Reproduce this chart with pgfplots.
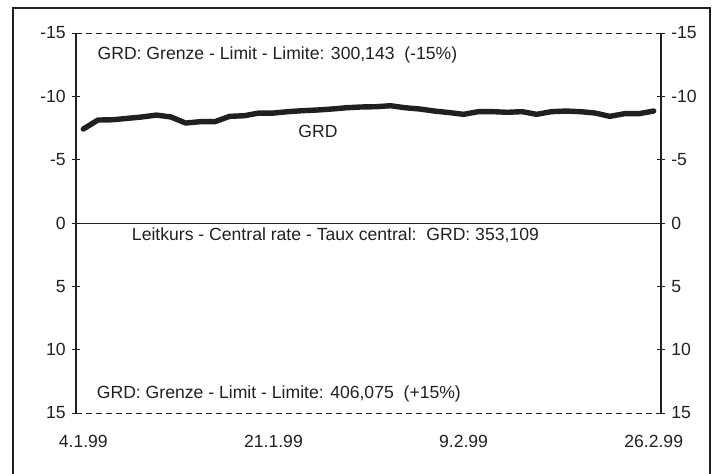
\documentclass[border=0pt]{standalone}
\usepackage{fontspec}
\setmainfont{Liberation Sans}
\usepackage{pgfplots}
\pgfplotsset{compat=1.18}
\definecolor{ink}{HTML}{202020}
\begin{document}
\fontsize{8.8bp}{10.5bp}\selectfont
\begin{tikzpicture}
\pgfplotsset{
  common/.style={
    width=292.5bp, height=190bp, scale only axis,
    xmin=-0.5, xmax=39.5, ymin=-15, ymax=15, y dir=reverse,
    axis line style={draw=none},
    ytick={-15,-10,-5,0,5,10,15},
    tick align=center,
    major tick length=4bp,
    tick style={ink, line width=0.5bp},
    /pgf/number format/assume math mode=true,
    tick label style={font=\fontsize{8.8bp}{10.5bp}\selectfont, text=ink},
    clip=false,
  }
}
\begin{axis}[common,
  ytick pos=left, yticklabel pos=left,
  xtick={0,13,26,39}, xticklabels={4.1.99,21.1.99,9.2.99,26.2.99},
  x tick style={draw=none},
  xticklabel style={yshift=-6bp},
]
\draw[ink, line width=0.6bp] (axis cs:-0.5,-15) -- (axis cs:-0.5,15);
\draw[ink, line width=0.6bp] (axis cs:39.5,-15) -- (axis cs:39.5,15);
\draw[ink, line width=0.5bp] (axis cs:-0.5,0) -- (axis cs:39.5,0);
\draw[ink, line width=0.5bp, dash pattern=on 2.8bp off 2.2bp] (axis cs:-0.5,-15) -- (axis cs:39.5,-15);
\draw[ink, line width=0.5bp, dash pattern=on 2.8bp off 2.2bp] (axis cs:-0.5,15) -- (axis cs:39.5,15);
\addplot[ink, line width=2.7bp, line cap=round, line join=round, mark=none] coordinates {
(0,-7.42) (1,-8.13) (2,-8.15) (3,-8.26) (4,-8.37) (5,-8.52) (6,-8.37) (7,-7.89)
(8,-8.0) (9,-8.0) (10,-8.42) (11,-8.47) (12,-8.68) (13,-8.68) (14,-8.79) (15,-8.87)
(16,-8.92) (17,-9.0) (18,-9.1) (19,-9.16) (20,-9.18) (21,-9.26) (22,-9.1) (23,-9.0)
(24,-8.84) (25,-8.72) (26,-8.58) (27,-8.79) (28,-8.79) (29,-8.74) (30,-8.79) (31,-8.58)
(32,-8.79) (33,-8.84) (34,-8.79) (35,-8.68) (36,-8.42) (37,-8.63) (38,-8.63) (39,-8.84)
};
\node[anchor=west, inner sep=0pt, text=ink] at (axis cs:0.95,-13.3) {GRD: Grenze - Limit - Limite: 300,143\ \ (-15\%)};
\node[inner sep=0pt, text=ink] at (axis cs:16.05,-7.2) {GRD};
\node[anchor=west, inner sep=0pt, text=ink] at (axis cs:3.3,1.0) {Leitkurs - Central rate - Taux central:\ \ GRD: 353,109};
\node[anchor=west, inner sep=0pt, text=ink] at (axis cs:0.9,13.5) {GRD: Grenze - Limit - Limite: 406,075\ \ (+15\%)};
\end{axis}
\begin{axis}[common,
  ytick pos=right, yticklabel pos=right,
  xtick=\empty,
]
\end{axis}
\draw[ink, line width=0.8bp] (-31.5bp,-32bp) -- (-31.5bp,202.5bp) -- (317bp,202.5bp) -- (317bp,-32bp);
\pgfresetboundingbox
\useasboundingbox (-38bp,-30.5bp) rectangle (320bp,206.5bp);
\end{tikzpicture}
\end{document}
